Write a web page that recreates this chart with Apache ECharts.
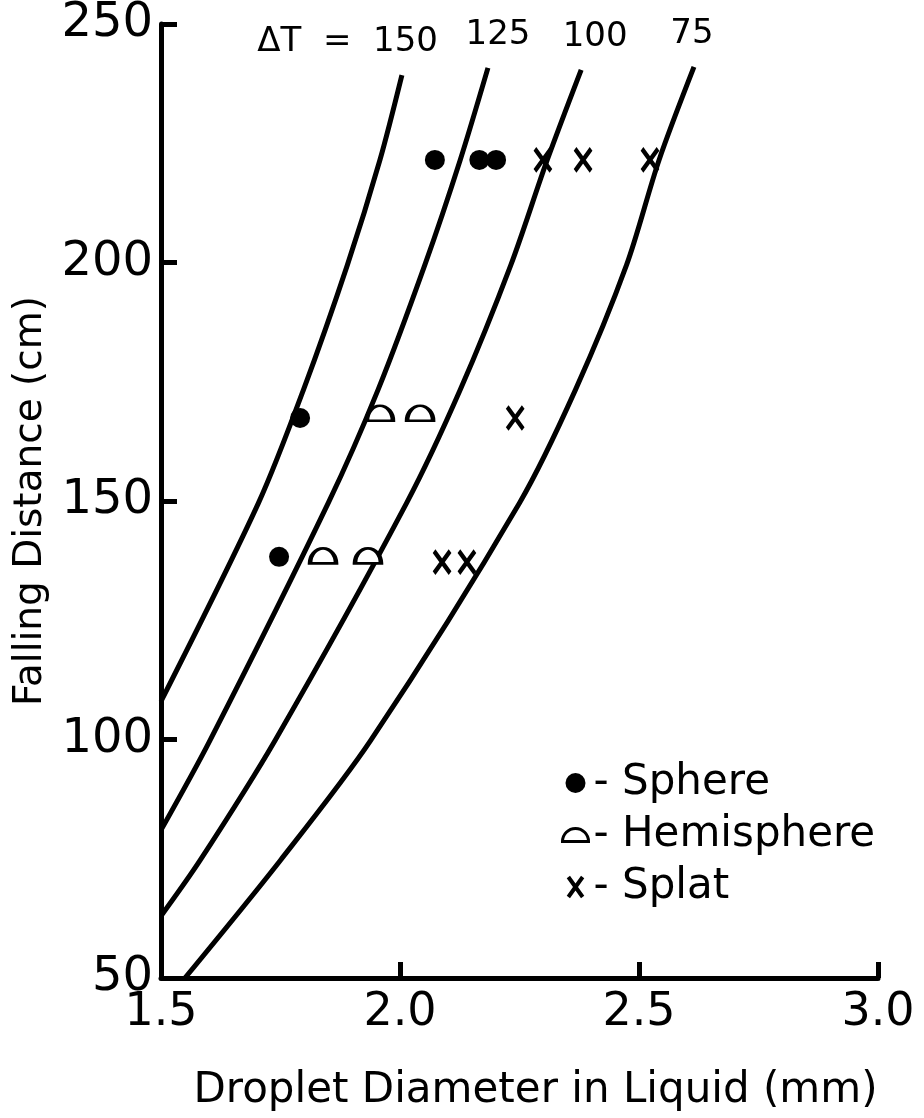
<!DOCTYPE html>
<html>
<head>
<meta charset="utf-8">
<script src="https://cdn.jsdelivr.net/npm/echarts@6/dist/echarts.min.js"></script>
<style>
html,body{margin:0;padding:0;background:#fff;}
#chart{width:924px;height:1118px;}
</style>
</head>
<body>
<div id="chart"></div>
<script>
// Curves: [diameter (mm), falling distance (cm)]
const curve150 = [[1.5,108],[1.704,149.6],[1.798,173.3],[1.890,199.5],[1.958,221.5],[2.004,239.3]];
const curve125 = [[1.5,81],[1.602,99.7],[1.850,149.6],[1.954,173.3],[2.052,199.5],[2.126,221.5],[2.184,240.8]];
const curve100 = [[1.5,63],[1.582,74.7],[1.738,99.7],[2.014,149.6],[2.126,173.3],[2.232,199.5],[2.308,221.5],[2.379,240.4]];
const curve75  = [[1.55,50],[1.750,74.7],[1.938,99.7],[2.250,149.6],[2.367,173.3],[2.474,199.5],[2.542,221.5],[2.615,241]];
const curveLabels = ['ΔT  =  150','125','100','75'];

// Observations
const sphere = [[2.073,221.5],[2.166,221.5],[2.201,221.5],[1.791,167.4],[1.747,138.3]];
const hemisphere = [[1.958,168.4],[2.042,168.4],[1.839,138.5],[1.933,138.5]];
const splat = [[2.299,221.5],[2.383,221.5],[2.523,221.5],[2.241,167.4],[2.088,137.2],[2.140,137.2]];

const xTicks = {min:1.5, max:3.0, interval:0.5};
const yTicks = {min:50, max:250, interval:50};

const FONT = 'DejaVu Sans';
const chart = echarts.init(document.getElementById('chart'));

const curves = [curve150, curve125, curve100, curve75];
const curveSeries = curves.map((c, i) => ({
  type: 'line',
  name: 'curve' + i,
  data: c,
  smooth: 0.3,
  showSymbol: false,
  symbol: 'none',
  silent: true,
  lineStyle: {color: '#000', width: 5},
  z: 2
}));

const labelSeries = {
  type: 'scatter',
  name: 'labels',
  symbolSize: 0,
  silent: true,
  itemStyle: {opacity: 1},
  data: curves.map((c, i) => ({
    value: c[c.length - 1],
    label: {
      show: true,
      formatter: curveLabels[i],
      position: 'top',
      distance: 16,
      align: i === 0 ? 'right' : 'center',
      offset: i === 0 ? [36, 0] : [[0,10,14,-2][i], 0],
      fontSize: 34,
      fontFamily: FONT,
      color: '#000'
    }
  }))
};

const hemiPath = 'path://M0,12 A12,12 0 0 1 24,12 Z';
const xPath = 'path://M0,0 L10,14 M10,0 L0,14';

chart.setOption({
  animation: false,
  backgroundColor: '#fff',
  grid: {left: 161, right: 46, top: 24, bottom: 140},
  legend: {
    orient: 'vertical',
    left: 556,
    top: 755,
    itemGap: 6,
    itemWidth: 26,
    itemHeight: 20,
    data: [
      {name: 'Sphere', icon: 'circle', itemStyle: {color: '#000', opacity: 1}},
      {name: 'Hemisphere', icon: hemiPath, itemStyle: {color: '#fff', borderColor: '#000', borderWidth: 3, opacity: 1}},
      {name: 'Splat', icon: xPath, itemStyle: {color: 'rgba(0,0,0,0)', borderColor: '#000', borderWidth: 4, opacity: 1}}
    ],
    formatter: n => '- ' + n,
    textStyle: {fontSize: 42, fontFamily: FONT, color: '#000', lineHeight: 46}
  },
  xAxis: {
    type: 'value',
    min: xTicks.min, max: xTicks.max, interval: xTicks.interval,
    name: 'Droplet Diameter in Liquid (mm)',
    nameLocation: 'middle',
    nameGap: 92,
    nameTextStyle: {fontSize: 42, fontFamily: FONT, color: '#000', padding: [0, 0, 0, 32]},
    axisLine: {show: true, lineStyle: {color: '#000', width: 5}},
    axisTick: {show: true, inside: true, length: 16, lineStyle: {color: '#000', width: 5}},
    axisLabel: {fontSize: 46, fontFamily: FONT, color: '#000', margin: 12,
      formatter: v => v.toFixed(1)},
    splitLine: {show: false}
  },
  yAxis: {
    type: 'value',
    min: yTicks.min, max: yTicks.max, interval: yTicks.interval,
    name: 'Falling Distance (cm)',
    nameLocation: 'middle',
    nameGap: 110,
    nameRotate: 90,
    nameTextStyle: {fontSize: 39, fontFamily: FONT, color: '#000'},
    axisLine: {show: true, lineStyle: {color: '#000', width: 5}},
    axisTick: {show: true, inside: true, length: 16, lineStyle: {color: '#000', width: 5}},
    axisLabel: {fontSize: 48, fontFamily: FONT, color: '#000', margin: 8},
    splitLine: {show: false}
  },
  series: [
    ...curveSeries,
    labelSeries,
    {
      type: 'scatter', name: 'Sphere', data: sphere,
      symbol: 'circle', symbolSize: 20,
      itemStyle: {color: '#000', opacity: 1}, z: 5
    },
    {
      type: 'scatter', name: 'Hemisphere', data: hemisphere,
      symbol: hemiPath, symbolSize: [26, 15],
      itemStyle: {color: '#fff', borderColor: '#000', borderWidth: 3.5, opacity: 1}, z: 5
    },
    {
      type: 'scatter', name: 'Splat', data: splat,
      symbol: xPath, symbolSize: [16, 22],
      itemStyle: {color: 'rgba(0,0,0,0)', borderColor: '#000', borderWidth: 4.5, opacity: 1}, z: 5
    }
  ]
});
</script>
</body>
</html>
